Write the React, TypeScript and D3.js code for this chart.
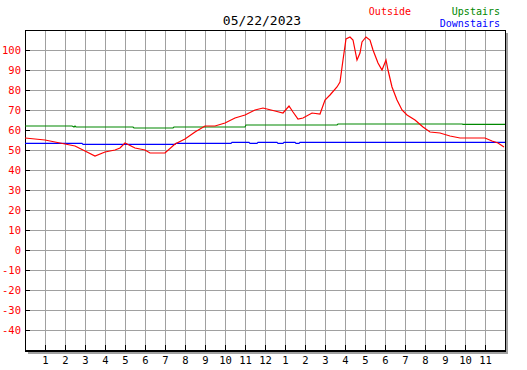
import React from 'react';
import * as d3 from 'd3';

const title = '05/22/2023';

// hours since midnight, temperature in F
const outsideHours = [0, 0.5, 1, 1.5, 2, 2.5, 3, 3.5, 4, 4.5, 4.75, 5, 5.5, 6, 6.25, 7, 7.5, 8, 8.5, 9, 9.5, 10, 10.5, 11, 11.5, 11.9, 12.5, 12.9, 13.2, 13.4, 13.65, 13.9, 14.35, 14.75, 15, 15.25, 15.6, 15.75, 15.9, 16.05, 16.25, 16.4, 16.6, 16.75, 16.85, 17.05, 17.25, 17.4, 17.65, 17.85, 18.05, 18.15, 18.35, 18.6, 18.85, 19.1, 19.5, 19.9, 20.25, 20.75, 21.25, 21.75, 23, 23.35, 23.65, 23.95];
const outsideTemps = [56, 55.5, 55, 54, 53, 52, 49.5, 47, 49, 50, 51, 53.5, 51, 50, 48.5, 48.5, 53, 55.5, 59, 62, 62, 63.5, 66, 67.5, 70, 71, 69.5, 68.5, 72, 69, 65.5, 66, 68.5, 68, 75, 77.5, 81.5, 84, 95, 105.5, 106.5, 105, 95, 98.5, 104, 106.5, 105, 100, 93.5, 90, 95, 90, 81.5, 75, 70, 67.5, 65, 61.5, 59, 58.5, 57, 56, 56, 54.5, 53.5, 51.5];

const upstairsHours = [0, 2.35, 2.45, 2.5, 2.55, 5.4, 5.45, 7.4, 7.45, 11, 11.05, 15.6, 15.65, 21.85, 21.9, 24];
const upstairsTemps = [62, 62, 61.5, 62, 61.5, 61.5, 61, 61, 61.5, 61.5, 62.5, 62.5, 63, 63, 62.8, 62.8];

const downstairsHours = [0, 2.85, 2.9, 7.5, 7.55, 10.3, 10.35, 11.2, 11.25, 11.6, 11.65, 12.6, 12.65, 12.9, 12.95, 13.5, 13.55, 13.7, 13.75, 24];
const downstairsTemps = [53.3, 53.3, 52.8, 52.8, 53.3, 53.3, 53.8, 53.8, 53.3, 53.3, 53.8, 53.8, 53.3, 53.3, 53.8, 53.8, 53.3, 53.3, 53.8, 53.8];

const yTicks = [100, 90, 80, 70, 60, 50, 40, 30, 20, 10, 0, -10, -20, -30, -40];
const xTickLabels = ['1', '2', '3', '4', '5', '6', '7', '8', '9', '10', '11', '12', '1', '2', '3', '4', '5', '6', '7', '8', '9', '10', '11'];

const series = [
  { name: 'Outside', hours: outsideHours, temps: outsideTemps, color: '#ff0000' },
  { name: 'Upstairs', hours: upstairsHours, temps: upstairsTemps, color: '#008800' },
  { name: 'Downstairs', hours: downstairsHours, temps: downstairsTemps, color: '#0000ff' },
];

const W = 527;
const H = 370;
const left = 25;
const right = 505;
const top = 30;
const bottom = 350;
const font = '"DejaVu Sans Mono", monospace';

const App = () => {
  const x = d3.scaleLinear().domain([0, 24]).range([left, right]);
  const y = d3.scaleLinear().domain([-50, 110]).range([bottom, top]);

  const hourTicks = d3.range(1, 24);
  const gridY = d3.range(-40, 110, 10);

  const line = d3
    .line<[number, number]>()
    .x((d) => x(d[0]))
    .y((d) => y(d[1]));

  return (
    <svg width={W} height={H} style={{ position: 'absolute', left: 0, top: 0, background: '#fff' }}>
      <rect x={0} y={0} width={W} height={H} fill="#fff" />
      {/* grid */}
      <g stroke="#a0a0a0" strokeWidth={1} shapeRendering="crispEdges">
        {hourTicks.map((h) => (
          <line key={'gx' + h} x1={x(h) + 0.5} x2={x(h) + 0.5} y1={top} y2={bottom} />
        ))}
        {gridY.map((v) => (
          <line key={'gy' + v} x1={left} x2={right} y1={y(v) + 0.5} y2={y(v) + 0.5} />
        ))}
      </g>
      {/* shadow */}
      <g stroke="#a0a0a0" strokeWidth={2} shapeRendering="crispEdges">
        <line x1={right + 2} x2={right + 2} y1={top + 3} y2={bottom + 3} />
        <line x1={left + 3} x2={right + 3} y1={bottom + 3} y2={bottom + 3} />
      </g>
      {/* frame */}
      <g stroke="#000" shapeRendering="crispEdges">
        <line x1={left + 0.5} x2={left + 0.5} y1={top} y2={bottom + 1} strokeWidth={1} />
        <line x1={left} x2={right + 1} y1={top + 0.5} y2={top + 0.5} strokeWidth={1} />
        <line x1={right + 0.5} x2={right + 0.5} y1={top} y2={bottom + 2} strokeWidth={1} />
        <line x1={left} x2={right + 1} y1={bottom + 1} y2={bottom + 1} strokeWidth={2} />
        {yTicks.map((v) => (
          <line key={'ty' + v} x1={left} x2={left + 5} y1={y(v) + 0.5} y2={y(v) + 0.5} />
        ))}
        {hourTicks.map((h) => (
          <line key={'tx' + h} x1={x(h) + 0.5} x2={x(h) + 0.5} y1={bottom - 5} y2={bottom} />
        ))}
      </g>
      {/* series */}
      {series
        .slice()
        .reverse()
        .map((s) => (
          <path
            key={s.name}
            d={line(s.hours.map((h, i) => [h, s.temps[i]] as [number, number])) || ''}
            fill="none"
            stroke={s.color}
            strokeWidth={1.2}
          />
        ))}
      {/* y labels */}
      <g fontFamily={font} fontSize={10.5} fill="#ff0000" textAnchor="end">
        {yTicks.map((v) => (
          <text key={'ly' + v} x={21} y={y(v) + 4}>
            {v}
          </text>
        ))}
      </g>
      {/* x labels */}
      <g fontFamily={font} fontSize={10.5} fill="#000" textAnchor="middle">
        {hourTicks.map((h, i) => (
          <text key={'lx' + h} x={x(h) + 0.5} y={364}>
            {xTickLabels[i]}
          </text>
        ))}
      </g>
      <text x={262} y={25} fontFamily={font} fontSize={13} textAnchor="middle" fill="#000">
        {title}
      </text>
      <text x={411} y={15} fontFamily={font} fontSize={10} textAnchor="end" fill={series[0].color}>
        {series[0].name}
      </text>
      <text x={500} y={15} fontFamily={font} fontSize={10} textAnchor="end" fill={series[1].color}>
        {series[1].name}
      </text>
      <text x={500} y={27} fontFamily={font} fontSize={10} textAnchor="end" fill={series[2].color}>
        {series[2].name}
      </text>
    </svg>
  );
};

export default App;
